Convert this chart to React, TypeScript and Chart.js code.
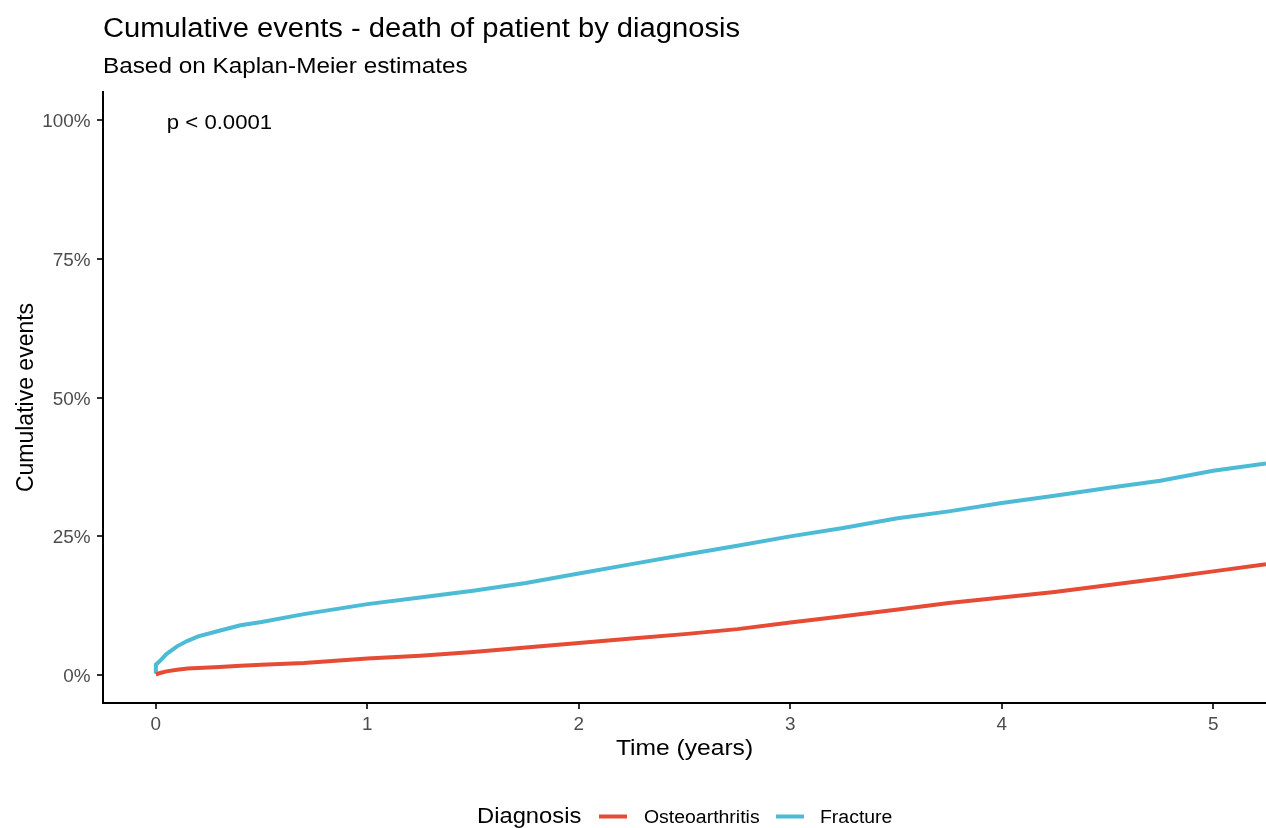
import React, { useEffect, useRef } from "react";
import { Chart, registerables } from "chart.js";

Chart.register(...registerables);

const titleText = "Cumulative events - death of patient by diagnosis";
const subtitleText = "Based on Kaplan-Meier estimates";
const pValueText = "p < 0.0001";
const xAxisTitle = "Time (years)";
const yAxisTitle = "Cumulative events";
const legendTitle = "Diagnosis";
const seriesNames = ["Osteoarthritis", "Fracture"];
const seriesColors = ["#E64B35", "#4DBBD5"];

const xTicks = [0, 1, 2, 3, 4, 5];
const yTicks = [0, 25, 50, 75, 100];
const yTickLabels = ["0%", "25%", "50%", "75%", "100%"];

const osteoTime = [0, 0.02, 0.05, 0.1, 0.15, 0.2, 0.3, 0.4, 0.5, 0.7, 1.0, 1.25, 1.5, 1.75, 2.0, 2.25, 2.5, 2.75, 3.0, 3.25, 3.5, 3.75, 4.0, 4.25, 4.5, 4.75, 5.0, 5.25];
const osteoPct = [0.1, 0.4, 0.7, 1.0, 1.2, 1.3, 1.5, 1.7, 1.9, 2.2, 3.0, 3.5, 4.2, 5.0, 5.8, 6.6, 7.4, 8.3, 9.5, 10.6, 11.8, 13.0, 14.0, 15.0, 16.2, 17.4, 18.7, 20.0];

const fractureTime = [0, 0, 0.02, 0.05, 0.1, 0.15, 0.2, 0.3, 0.4, 0.5, 0.7, 1.0, 1.25, 1.5, 1.75, 2.0, 2.25, 2.5, 2.75, 3.0, 3.25, 3.5, 3.75, 4.0, 4.25, 4.5, 4.75, 5.0, 5.25];
const fracturePct = [0.3, 1.9, 2.6, 3.8, 5.2, 6.2, 7.0, 8.0, 9.0, 9.6, 11.0, 12.8, 14.0, 15.2, 16.6, 18.3, 20.0, 21.7, 23.3, 25.0, 26.5, 28.2, 29.5, 31.0, 32.3, 33.7, 35.0, 36.8, 38.1];

const FONT = '"Liberation Sans", Arial, Helvetica, sans-serif';
const HS = 1.08;

function drawText(
  ctx: CanvasRenderingContext2D,
  s: string,
  x: number,
  y: number,
  size: number,
  color: string,
  align: "left" | "center" | "right"
) {
  ctx.save();
  ctx.font = `${size}px ${FONT}`;
  ctx.fillStyle = color;
  ctx.textBaseline = "alphabetic";
  ctx.textAlign = "left";
  const w = ctx.measureText(s).width * HS;
  const x0 = align === "left" ? x : align === "center" ? x - w / 2 : x - w;
  ctx.translate(x0, y);
  ctx.scale(HS, 1);
  ctx.fillText(s, 0, 0);
  ctx.restore();
}

const textPlugin = {
  id: "ggText",
  afterDraw(chart: any) {
    const ctx: CanvasRenderingContext2D = chart.ctx;
    const area = chart.chartArea;
    const xs = chart.scales.x;
    const ys = chart.scales.y;

    // titles
    drawText(ctx, titleText, area.left, 36.5, 27, "#000000", "left");
    drawText(ctx, subtitleText, area.left, 73, 22.5, "#000000", "left");

    // p-value annotation
    drawText(ctx, pValueText, xs.getPixelForValue(0) + 11, 129, 20.5, "#000000", "left");

    // tick labels
    yTicks.forEach((v, i) => {
      drawText(ctx, yTickLabels[i], area.left - 12.5, ys.getPixelForValue(v) + 7, 17.5, "#4D4D4D", "right");
    });
    xTicks.forEach((v) => {
      drawText(ctx, String(v), xs.getPixelForValue(v), 730, 17.5, "#4D4D4D", "center");
    });

    // axis titles
    drawText(ctx, xAxisTitle, (area.left + area.right) / 2, 755, 22.8, "#000000", "center");
    ctx.save();
    ctx.translate(33, (area.top + area.bottom) / 2);
    ctx.rotate(-Math.PI / 2);
    ctx.font = `23px ${FONT}`;
    ctx.fillStyle = "#000000";
    ctx.textAlign = "center";
    ctx.textBaseline = "alphabetic";
    ctx.fillText(yAxisTitle, 0, 0);
    ctx.restore();

    // legend
    drawText(ctx, legendTitle, 477, 823, 22, "#000000", "left");
    const keyStarts = [599, 776];
    const labelStarts = [644, 820];
    seriesNames.forEach((name, i) => {
      ctx.save();
      ctx.strokeStyle = seriesColors[i];
      ctx.lineWidth = 4;
      ctx.beginPath();
      ctx.moveTo(keyStarts[i], 816.5);
      ctx.lineTo(keyStarts[i] + 28, 816.5);
      ctx.stroke();
      ctx.restore();
      drawText(ctx, name, labelStarts[i], 822.5, 18, "#000000", "left");
    });
  },
};

export default function App() {
  const canvasRef = useRef<HTMLCanvasElement | null>(null);

  useEffect(() => {
    document.body.style.margin = "0";
    const canvas = canvasRef.current;
    if (!canvas) return;

    const toPoints = (t: number[], v: number[]) => t.map((x, i) => ({ x, y: v[i] }));

    const chart = new Chart(canvas, {
      type: "line",
      data: {
        datasets: [
          {
            label: seriesNames[0],
            data: toPoints(osteoTime, osteoPct),
            borderColor: seriesColors[0],
            backgroundColor: seriesColors[0],
            borderWidth: 4,
            pointRadius: 0,
            tension: 0,
            fill: false,
          },
          {
            label: seriesNames[1],
            data: toPoints(fractureTime, fracturePct),
            borderColor: seriesColors[1],
            backgroundColor: seriesColors[1],
            borderWidth: 4,
            pointRadius: 0,
            tension: 0,
            fill: false,
          },
        ],
      },
      options: {
        animation: false,
        responsive: false,
        maintainAspectRatio: false,
        layout: { padding: { top: 92, left: 0, right: 0, bottom: 0 } },
        plugins: {
          legend: { display: false },
          title: { display: false },
          tooltip: { enabled: false },
        },
        scales: {
          x: {
            type: "linear",
            min: -0.25,
            max: 5.25,
            afterBuildTicks: (scale: any) => {
              scale.ticks = xTicks.map((v) => ({ value: v }));
            },
            afterFit: (scale: any) => {
              scale.height = 125;
            },
            ticks: { display: false },
            grid: {
              display: true,
              drawOnChartArea: false,
              drawTicks: true,
              tickLength: 6,
              color: "#333333",
              lineWidth: 2,
            },
            border: { display: true, color: "#000000", width: 2 },
          },
          y: {
            type: "linear",
            min: -5,
            max: 105,
            afterBuildTicks: (scale: any) => {
              scale.ticks = yTicks.map((v) => ({ value: v }));
            },
            afterFit: (scale: any) => {
              scale.width = 103;
            },
            ticks: { display: false },
            grid: {
              display: true,
              drawOnChartArea: false,
              drawTicks: true,
              tickLength: 6,
              color: "#333333",
              lineWidth: 2,
            },
            border: { display: true, color: "#000000", width: 2 },
          },
        },
      },
      plugins: [textPlugin],
    } as any);

    return () => {
      chart.destroy();
    };
  }, []);

  return (
    <div style={{ width: 1266, height: 828, background: "#ffffff" }}>
      <canvas ref={canvasRef} width={1266} height={828} style={{ width: 1266, height: 828, display: "block" }} />
    </div>
  );
}
